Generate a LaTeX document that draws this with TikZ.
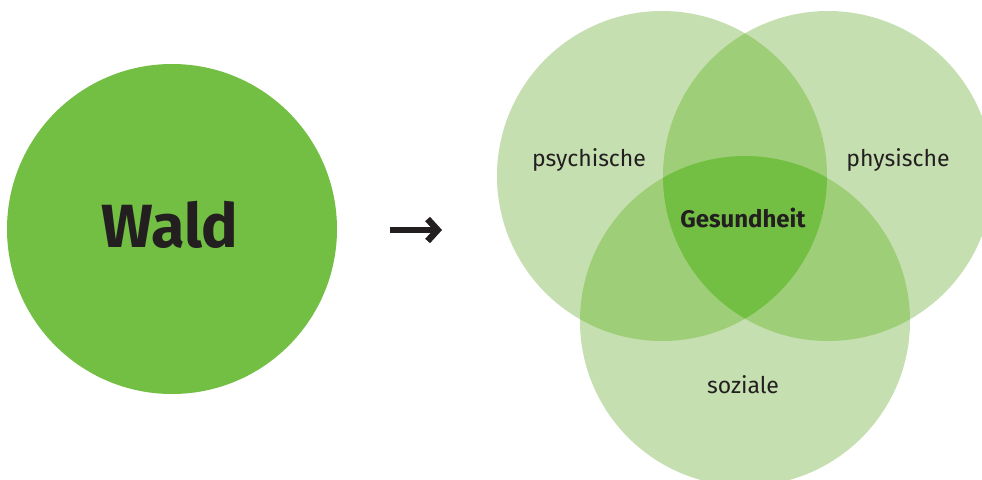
\documentclass[tikz,border=0pt]{standalone}
\usepackage{fontspec}
\setmainfont{Fira Sans}
\usetikzlibrary{arrows.meta}
\definecolor{waldgreen}{RGB}{114,191,68}
\definecolor{midgreen}{RGB}{158,206,120}
\definecolor{lightgreen}{RGB}{197,223,176}
\definecolor{textdark}{RGB}{35,31,32}

\begin{document}
\begin{tikzpicture}[x=1pt, y=-1pt,
    label/.style={text=textdark, anchor=base, inner sep=0pt, font=\fontsize{23}{23}\selectfont}]
    \useasboundingbox (0,0) rectangle (982,479);
    \def\psycircle{(662,176) circle (165pt)}
    \def\phycircle{(828,176) circle (165pt)}
    \def\sozcircle{(745,321) circle (165pt)}

    \node[circle, fill=waldgreen, minimum size=330pt, inner sep=0pt] (wald) at (172,229) {};
    \node[label, font=\fontsize{61}{61}\selectfont\bfseries] (waldtext) at (170,247) {Wald};

    \coordinate (arrowstart) at (390,230);
    \coordinate (arrowend) at (442,230);
    \draw[textdark, line width=6.5pt, -{Straight Barb[length=10pt, width=22pt]}] (arrowstart) -- (arrowend);

    \foreach \c in {\psycircle, \phycircle, \sozcircle} {
        \fill[lightgreen] \c;
    }
    \begin{scope}
        \clip \psycircle;
        \fill[midgreen] \phycircle;
        \fill[midgreen] \sozcircle;
    \end{scope}
    \begin{scope}
        \clip \phycircle;
        \fill[midgreen] \sozcircle;
    \end{scope}
    \begin{scope}
        \clip \psycircle;
        \clip \phycircle;
        \fill[waldgreen] \sozcircle;
    \end{scope}

    \node[label] (psy) at (589,166) {psychische};
    \node[label] (phy) at (898,166) {physische};
    \node[label] (soz) at (743,393) {soziale};
    \node[label, font=\fontsize{24}{24}\selectfont\bfseries] (ges) at (743,227) {Gesundheit};
\end{tikzpicture}
\end{document}
